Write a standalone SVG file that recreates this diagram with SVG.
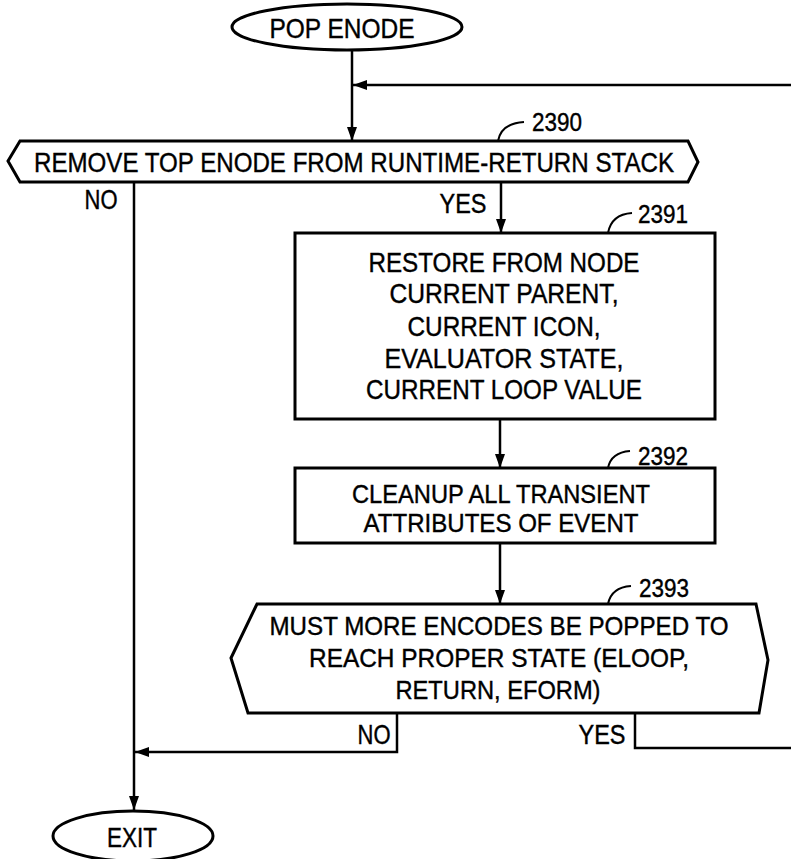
<svg xmlns="http://www.w3.org/2000/svg" width="791" height="859" viewBox="0 0 791 859">
<style>
.shape{fill:#fff;stroke:#000;stroke-width:3}
.conn{fill:none;stroke:#000;stroke-width:2.5}
.lead{fill:none;stroke:#000;stroke-width:2}
text{font-family:"Liberation Sans Narrow","Arial Narrow","Liberation Sans",Arial,sans-serif;font-size:28px;fill:#000;stroke:#000;stroke-width:0.4;text-anchor:middle}
.ref{font-size:26px}
.sm{font-size:26px}
</style>
<defs>
<marker id="arr" markerUnits="userSpaceOnUse" markerWidth="15" markerHeight="11" refX="14" refY="5" orient="auto">
<path d="M0,0 L14,5 L0,10 z" fill="#000"/>
</marker>
</defs>
<rect width="791" height="859" fill="#fff"/>
<g id="connectors">
<path class="conn" d="M352,50 L352,141" marker-end="url(#arr)"/>
<path class="conn" d="M635,713 L635,748 L830,748 L830,85 L353,85" marker-end="url(#arr)"/>
<path class="conn" d="M134,182 L134,810" marker-end="url(#arr)"/>
<path class="conn" d="M501,182 L501,233" marker-end="url(#arr)"/>
<path class="conn" d="M500,419 L500,468" marker-end="url(#arr)"/>
<path class="conn" d="M500,543 L500,604" marker-end="url(#arr)"/>
<path class="conn" d="M397,713 L397,752 L135,752" marker-end="url(#arr)"/>
<text x="101" y="209" textLength="33" lengthAdjust="spacingAndGlyphs">NO</text>
<text x="463" y="213" textLength="47" lengthAdjust="spacingAndGlyphs">YES</text>
<text x="374" y="744" textLength="33" lengthAdjust="spacingAndGlyphs">NO</text>
<text x="602" y="744" textLength="47" lengthAdjust="spacingAndGlyphs">YES</text>
</g>
<g id="start">
<ellipse class="shape" cx="347" cy="27" rx="115" ry="23"/>
<text x="342" y="38" textLength="145" lengthAdjust="spacingAndGlyphs">POP ENODE</text>
</g>
<g id="n2390">
<polygon class="shape" points="8,161 20,141 688,141 698,162 688,182 20,182"/>
<text x="354" y="172" textLength="640" lengthAdjust="spacingAndGlyphs">REMOVE TOP ENODE FROM RUNTIME-RETURN STACK</text>
<path class="lead" d="M498,141 C500,130 508,123 524,122"/>
<text class="ref" x="557" y="131" textLength="50" lengthAdjust="spacingAndGlyphs">2390</text>
</g>
<g id="n2391">
<rect class="shape" x="295" y="233" width="420" height="186"/>
<text x="504" y="272" textLength="271" lengthAdjust="spacingAndGlyphs">RESTORE FROM NODE</text>
<text x="504" y="303" textLength="229" lengthAdjust="spacingAndGlyphs">CURRENT PARENT,</text>
<text x="504" y="336" textLength="193" lengthAdjust="spacingAndGlyphs">CURRENT ICON,</text>
<text x="504" y="368" textLength="239" lengthAdjust="spacingAndGlyphs">EVALUATOR STATE,</text>
<text x="504" y="399" textLength="276" lengthAdjust="spacingAndGlyphs">CURRENT LOOP VALUE</text>
<path class="lead" d="M608,233 C610,222 617,214 632,213"/>
<text class="ref" x="663" y="223" textLength="50" lengthAdjust="spacingAndGlyphs">2391</text>
</g>
<g id="n2392">
<rect class="shape" x="295" y="468" width="420" height="75"/>
<text class="sm" x="501" y="503" textLength="298" lengthAdjust="spacingAndGlyphs">CLEANUP ALL TRANSIENT</text>
<text class="sm" x="501" y="532" textLength="275" lengthAdjust="spacingAndGlyphs">ATTRIBUTES OF EVENT</text>
<path class="lead" d="M608,468 C610,458 616,452 630,451"/>
<text class="ref" x="663" y="465" textLength="50" lengthAdjust="spacingAndGlyphs">2392</text>
</g>
<g id="n2393">
<polygon class="shape" points="231,658 257,604 756,604 768,660 759,713 248,713"/>
<text class="sm" x="499" y="635" textLength="459" lengthAdjust="spacingAndGlyphs">MUST MORE ENCODES BE POPPED TO</text>
<text class="sm" x="499" y="667" textLength="380" lengthAdjust="spacingAndGlyphs">REACH PROPER STATE (ELOOP,</text>
<text class="sm" x="498" y="699" textLength="205" lengthAdjust="spacingAndGlyphs">RETURN, EFORM)</text>
<path class="lead" d="M608,604 C610,594 616,587 631,586"/>
<text class="ref" x="664" y="597" textLength="50" lengthAdjust="spacingAndGlyphs">2393</text>
</g>
<g id="exit">
<ellipse class="shape" cx="133" cy="836" rx="80" ry="25"/>
<text x="132" y="847" textLength="50" lengthAdjust="spacingAndGlyphs">EXIT</text>
</g>
</svg>
